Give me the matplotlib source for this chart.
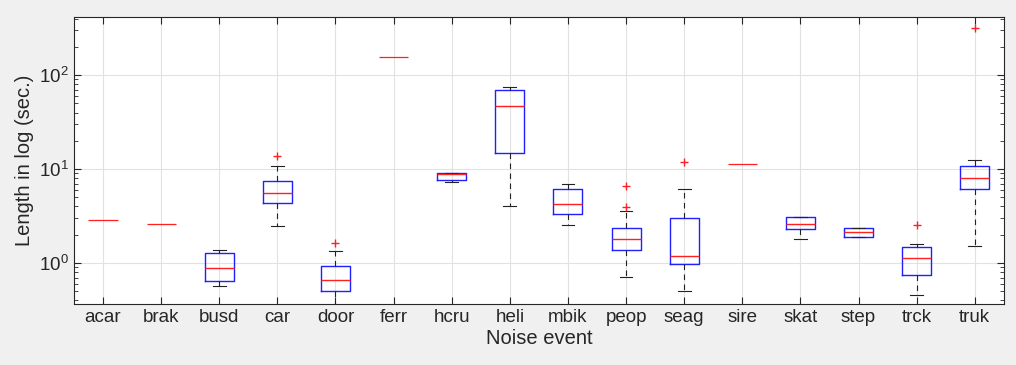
import matplotlib
matplotlib.use("Agg")
import matplotlib.pyplot as plt
from matplotlib.ticker import LogLocator, NullFormatter

plt.rcParams["font.family"] = ["Liberation Sans", "DejaVu Sans"]
plt.rcParams["mathtext.fontset"] = "custom"
plt.rcParams["mathtext.rm"] = "Liberation Sans"
plt.rcParams["mathtext.it"] = "Liberation Sans:italic"

# noise event categories
events = ["acar", "brak", "busd", "car", "door", "ferr", "hcru", "heli",
          "mbik", "peop", "seag", "sire", "skat", "step", "trck", "truk"]

# box statistics (seconds)
whislo = [2.87, 2.58, 0.57, 2.47, 0.36, 156.0, 7.2, 4.07, 2.54, 0.716, 0.504, 11.3, 1.80, 1.89, 0.457, 1.51]
q1 = [2.87, 2.58, 0.644, 4.32, 0.50, 156.0, 7.64, 14.7, 3.30, 1.37, 0.975, 11.3, 2.32, 1.89, 0.751, 6.17]
med = [2.87, 2.58, 0.89, 5.6, 0.66, 156.0, 8.9, 46.8, 4.27, 1.79, 1.19, 11.3, 2.62, 2.14, 1.14, 8.08]
q3 = [2.87, 2.58, 1.27, 7.45, 0.94, 156.0, 9.0, 68.8, 6.08, 2.34, 3.03, 11.3, 3.09, 2.38, 1.48, 10.9]
whishi = [2.87, 2.58, 1.37, 10.8, 1.35, 156.0, 9.0, 74.0, 6.87, 3.6, 6.08, 11.3, 3.12, 2.38, 1.61, 12.5]
outliers = [[], [], [], [13.8], [1.64], [], [], [], [], [3.97, 6.64], [11.8], [], [], [], [2.54], [321.0]]

stats = []
for i, name in enumerate(events):
    stats.append(dict(label=name, whislo=whislo[i], q1=q1[i], med=med[i],
                      q3=q3[i], whishi=whishi[i], fliers=outliers[i]))

fig = plt.figure(figsize=(10.16, 3.65), dpi=100, facecolor="#f0f0f0")
ax = fig.add_axes([0.0728, 0.167, 0.9152, 0.786])

bp = ax.bxp(stats, positions=range(1, len(events) + 1), widths=0.5,
            showfliers=True,
            boxprops=dict(color="#2020ff", linewidth=1.0),
            medianprops=dict(color="#ff2020", linewidth=1.0),
            whiskerprops=dict(color="#222222", linestyle=(0, (5, 4)), linewidth=0.8),
            capprops=dict(color="#222222", linewidth=0.8),
            capwidths=0.22,
            flierprops=dict(marker="+", markeredgecolor="#ff2020", markersize=6))

# single-value events: only the red median line is visible
for i in range(len(events)):
    if q1[i] == q3[i]:
        bp["boxes"][i].set_visible(False)
        for art in bp["caps"][2 * i:2 * i + 2] + bp["whiskers"][2 * i:2 * i + 2]:
            art.set_visible(False)
        bp["medians"][i].set_linewidth(0.9)

ax.set_yscale("log")
ax.set_ylim(0.366, 414)
ax.set_xlim(0.5, len(events) + 0.5)
ax.yaxis.set_minor_locator(LogLocator(base=10, subs=range(2, 10)))
ax.yaxis.set_minor_formatter(NullFormatter())
ax.set_xticks(range(1, len(events) + 1))
ax.set_xticklabels(events)

ax.grid(True, which="major", color="#e2e2e2", linewidth=0.8)
ax.set_axisbelow(True)
ax.tick_params(which="both", direction="in", top=True, right=True,
               labelsize=13.5, colors="#262626", length=5)
ax.tick_params(which="minor", length=3)
for sp in ax.spines.values():
    sp.set_color("#262626")
    sp.set_linewidth(0.8)

ax.set_xlabel("Noise event", fontsize=14.5, color="#262626", labelpad=2)
ax.set_ylabel("Length in log (sec.)", fontsize=14.5, color="#262626", labelpad=4)

fig.savefig("out.png", dpi=100, facecolor=fig.get_facecolor())
